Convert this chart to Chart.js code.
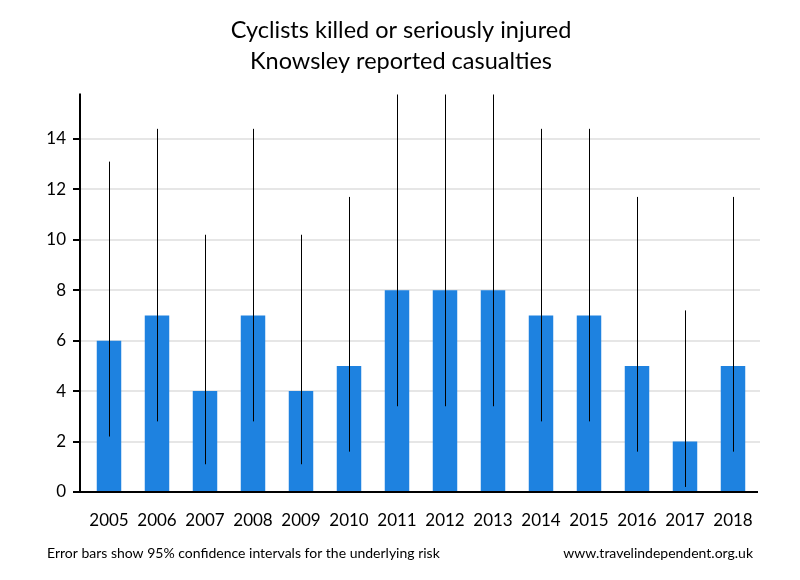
<!DOCTYPE html>
<html>
<head>
  <title>Cyclists killed or seriously injured - Knowsley</title>
  <script src="https://cdn.jsdelivr.net/npm/chart.js"></script>
  <style>
    body { margin: 0; background: #fff; }
  </style>
</head>
<body>
  <canvas id="casualtyChart" width="800" height="580"></canvas>

  <script>
    // data
    const years = ['2005', '2006', '2007', '2008', '2009', '2010', '2011', '2012', '2013', '2014', '2015', '2016', '2017', '2018'];
    const casualties = [6, 7, 4, 7, 4, 5, 8, 8, 8, 7, 7, 5, 2, 5];
    // 95% confidence interval ends (error bars)
    const lowerCI = [2.2, 2.8, 1.1, 2.8, 1.1, 1.6, 3.4, 3.4, 3.4, 2.8, 2.8, 1.6, 0.2, 1.6];
    const upperCI = [13.1, 14.4, 10.2, 14.4, 10.2, 11.7, 15.8, 15.8, 15.8, 14.4, 14.4, 11.7, 7.2, 11.7];
    const yTicks = [0, 2, 4, 6, 8, 10, 12, 14];

    const titleLines = ['Cyclists killed or seriously injured', 'Knowsley reported casualties'];
    const footLeft = 'Error bars show 95% confidence intervals for the underlying risk';
    const footRight = 'www.travelindependent.org.uk';

    const FONT = 'Lato, "Open Sans", sans-serif';
    Chart.defaults.color = '#000';
    Chart.defaults.font.family = FONT;

    // gridlines, axis lines, tick marks, error bars and footer
    const decorations = {
      id: 'decorations',
      beforeDatasetsDraw(chart) {
        const { ctx, chartArea, scales } = chart;
        const axisX = chartArea.left - 5;
        ctx.save();
        ctx.strokeStyle = '#e6e6e6';
        ctx.lineWidth = 2;
        yTicks.forEach(v => {
          if (v === 0) return;
          const y = Math.round(scales.y.getPixelForValue(v));
          ctx.beginPath();
          ctx.moveTo(axisX, y);
          ctx.lineTo(chartArea.right + 3, y);
          ctx.stroke();
        });
        ctx.restore();
      },
      afterDatasetsDraw(chart) {
        const { ctx, chartArea, scales } = chart;
        const axisX = chartArea.left - 5;
        ctx.save();

        // error bars
        ctx.beginPath();
        ctx.rect(chartArea.left - 10, chartArea.top, chartArea.width + 20, chartArea.height);
        ctx.clip();
        ctx.strokeStyle = '#000';
        ctx.lineWidth = 1;
        const meta = chart.getDatasetMeta(0);
        meta.data.forEach((bar, i) => {
          const x = Math.round(bar.x) + 0.5;
          ctx.beginPath();
          ctx.moveTo(x, scales.y.getPixelForValue(lowerCI[i]));
          ctx.lineTo(x, scales.y.getPixelForValue(upperCI[i]));
          ctx.stroke();
        });
        ctx.restore();

        // axes
        ctx.save();
        ctx.strokeStyle = '#000';
        ctx.lineWidth = 2;
        const yZero = Math.round(scales.y.getPixelForValue(0));
        ctx.beginPath();
        ctx.moveTo(axisX, chartArea.top - 1);
        ctx.lineTo(axisX, yZero + 1);
        ctx.moveTo(axisX - 1, yZero);
        ctx.lineTo(chartArea.right + 1, yZero);
        yTicks.forEach(v => {
          const y = Math.round(scales.y.getPixelForValue(v));
          ctx.moveTo(axisX - 7, y);
          ctx.lineTo(axisX, y);
        });
        ctx.stroke();
        ctx.restore();
      },
      afterDraw(chart) {
        const { ctx } = chart;
        ctx.save();
        ctx.fillStyle = '#000';
        ctx.font = '14px ' + FONT;
        ctx.textBaseline = 'alphabetic';
        ctx.textAlign = 'left';
        ctx.fillText(footLeft, 47, 558, 393);
        ctx.textAlign = 'right';
        ctx.fillText(footRight, 753, 558, 196);
        ctx.restore();
      }
    };

    const ctx = document.getElementById('casualtyChart').getContext('2d');
    new Chart(ctx, {
      type: 'bar',
      data: {
        labels: years,
        datasets: [{
          label: 'Casualties',
          data: casualties,
          backgroundColor: '#1e82e0',
          borderWidth: 0,
          categoryPercentage: 1,
          barPercentage: 0.51
        }]
      },
      options: {
        responsive: false,
        animation: false,
        layout: {
          padding: { left: 45, right: 43, top: 0, bottom: 0 }
        },
        plugins: {
          legend: { display: false },
          tooltip: { enabled: false },
          title: {
            display: true,
            text: titleLines,
            color: '#000',
            font: { size: 23.5, weight: 'normal', lineHeight: 1.32 },
            padding: { top: 14.5, bottom: 18 }
          }
        },
        scales: {
          x: {
            grid: { display: false, drawTicks: false },
            border: { display: false },
            ticks: { font: { size: 17 }, color: '#000', padding: 18, maxRotation: 0 },
            afterFit: s => { s.height = 88; }
          },
          y: {
            min: 0,
            max: 15.76,
            grid: { display: false, drawTicks: false },
            border: { display: false },
            ticks: {
              stepSize: 2,
              includeBounds: false,
              font: { size: 17 },
              color: '#000',
              padding: 19
            },
            afterFit: s => { s.width = 40; }
          }
        }
      },
      plugins: [decorations]
    });
  </script>
</body>
</html>
